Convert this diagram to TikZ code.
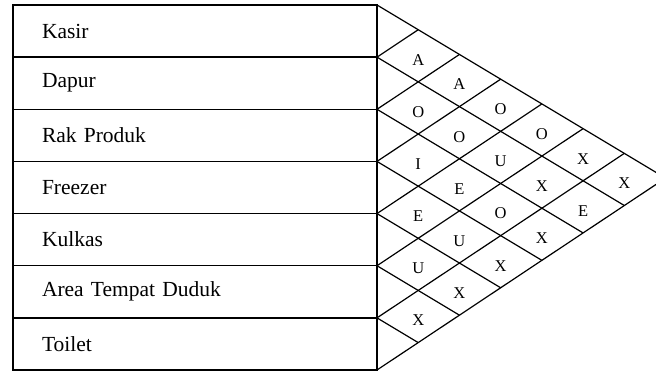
\documentclass[tikz,border=0pt]{standalone}
\usepackage{fontspec}
\setmainfont{Liberation Serif}
\begin{document}
\begin{tikzpicture}[x=1pt,y=-1pt,
  rowbox/.style={draw, line width=1.5pt, minimum width=364pt, minimum height=52.14pt,
    inner xsep=29pt, text width=306pt, align=left, font=\fontsize{21.5}{25}\selectfont},
  lat/.style={line width=1.2pt},
  rel/.style={font=\fontsize{16.5}{19}\selectfont, inner sep=0pt}]
\useasboundingbox (0,0) rectangle (656,371);
\clip (0,0) rectangle (656,371);
% table rows
\foreach \n/\t [count=\i from 0] in {r0/Kasir, r1/Dapur, r2/Rak Produk, r3/Freezer, r4/Kulkas, r5/Area Tempat Duduk, r6/Toilet}{
  \node[rowbox] (\n) at (195, 5+52.143*\i+26.07) {\t};
}
% lattice: down-right lines
\foreach \k in {0,...,6}{
  \pgfmathsetmacro\yk{5+52.143*\k}
  \pgfmathsetmacro\dd{(370-\yk)/1.265}
  \draw[lat] (377,\yk) -- ++(\dd,0.6*\dd);
}
% lattice: up-right lines
\foreach \k in {1,...,7}{
  \pgfmathsetmacro\yk{5+52.143*\k}
  \pgfmathsetmacro\dd{(\yk-5)/1.265}
  \draw[lat] (377,\yk) -- ++(\dd,-0.665*\dd);
}
% relationship letters
\foreach \a/\b/\l in {0/1/A,1/2/O,2/3/I,3/4/E,4/5/U,5/6/X,
  0/2/A,1/3/O,2/4/E,3/5/U,4/6/X,
  0/3/O,1/4/U,2/5/O,3/6/X,
  0/4/O,1/5/X,2/6/X,
  0/5/X,1/6/E,
  0/6/X}{
  \pgfmathsetmacro\ca{5+52.143*\a+26.07}
  \pgfmathsetmacro\dd{52.143*(\b-\a)/1.265}
  \node[rel] (p\a\b) at (377+\dd, \ca+0.6*\dd+4) {\l};
}
\end{tikzpicture}
\end{document}
